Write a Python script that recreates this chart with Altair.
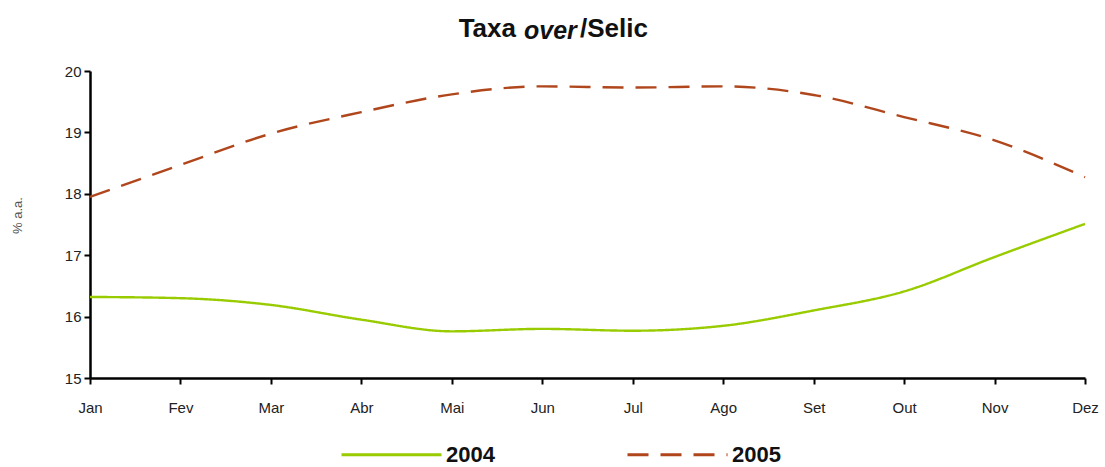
import altair as alt
import pandas as pd

months = ["Jan", "Fev", "Mar", "Abr", "Mai", "Jun", "Jul", "Ago", "Set", "Out", "Nov", "Dez"]
s2004 = [16.32, 16.30, 16.19, 15.95, 15.76, 15.80, 15.77, 15.85, 16.10, 16.41, 16.97, 17.51]
s2005 = [17.95, 18.47, 18.98, 19.33, 19.62, 19.75, 19.73, 19.75, 19.61, 19.25, 18.87, 18.27]
series = ["2004", "2005"]
colors = ["#99cc00", "#b0461c"]

rows = []
for m, a, b in zip(months, s2004, s2005):
    rows.append({"mes": m, "ano": "2004", "valor": a})
    rows.append({"mes": m, "ano": "2005", "valor": b})
df = pd.DataFrame(rows)

FONT = "Liberation Sans"

lines = alt.Chart(df).mark_line(interpolate="monotone", strokeWidth=2.4).encode(
    x=alt.X("mes:O", sort=months, scale=alt.Scale(type="point", padding=0),
            axis=alt.Axis(title=None, labelAngle=0, labelFontSize=15, labelColor="#222",
                          labelFont=FONT, tickSize=6, labelPadding=16,
                          domainColor="black", domainWidth=2.5, tickColor="black",
                          tickWidth=2, grid=False)),
    y=alt.Y("valor:Q", scale=alt.Scale(domain=[15, 20], nice=False, zero=False),
            axis=alt.Axis(title="% a.a.", values=[15, 16, 17, 18, 19, 20], format="d",
                          labelFontSize=15, labelColor="#222", labelFont=FONT,
                          tickSize=6, labelPadding=3, domainColor="black", domainWidth=2.5,
                          tickColor="black", tickWidth=2, grid=False,
                          titleFontSize=13, titleFontWeight="normal", titleColor="#555",
                          titleFont=FONT, titlePadding=40, titleY=144)),
    color=alt.Color("ano:N", scale=alt.Scale(domain=series, range=colors),
                    legend=alt.Legend(title=None, orient="none", legendX=250, legendY=332,
                                      direction="horizontal", symbolType="stroke",
                                      symbolSize=10000, symbolStrokeWidth=3,
                                      labelFontSize=22, labelFontWeight="bold",
                                      labelFont=FONT, labelColor="#111",
                                      columnPadding=126, labelOffset=3)),
    strokeDash=alt.StrokeDash("ano:N", scale=alt.Scale(domain=series, range=[[1, 0], [21, 12]]),
                              legend=None),
)

t1 = alt.Chart(pd.DataFrame({"t": ["Taxa"]})).mark_text(
    align="right", baseline="alphabetic", fontSize=26, fontWeight="bold", font=FONT, color="#111"
).encode(text="t:N", x=alt.value(426), y=alt.value(-34))
t2 = alt.Chart(pd.DataFrame({"t": ["over"]})).mark_text(
    align="left", baseline="alphabetic", fontSize=25, fontWeight="bold", fontStyle="italic",
    font=FONT, color="#111"
).encode(text="t:N", x=alt.value(434), y=alt.value(-32))
t3 = alt.Chart(pd.DataFrame({"t": ["/Selic"]})).mark_text(
    align="left", baseline="alphabetic", fontSize=26, fontWeight="bold", font=FONT, color="#111"
).encode(text="t:N", x=alt.value(490), y=alt.value(-34))

chart = alt.layer(lines, t1, t2, t3).properties(
    width=995, height=307,
    background="white",
    autosize=alt.AutoSizeParams(type="none"),
    padding={"left": 90, "top": 71, "right": 20, "bottom": 89},
).configure_view(stroke=None, strokeWidth=0)

chart.save("out.html", embed_options={"renderer": "svg", "actions": False})
